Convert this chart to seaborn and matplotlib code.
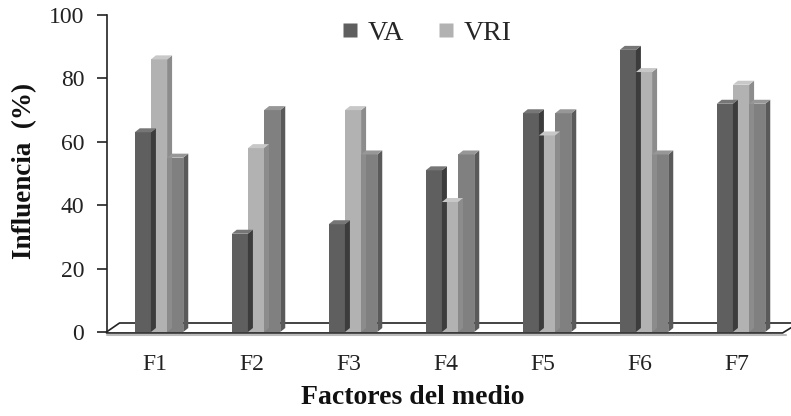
import numpy as np
import pandas as pd
import matplotlib
matplotlib.use("Agg")
import matplotlib.pyplot as plt
from matplotlib.patches import Polygon
from matplotlib.lines import Line2D
import seaborn as sns

factors = ["F1", "F2", "F3", "F4", "F5", "F6", "F7"]
va = [63, 31, 34, 51, 69, 89, 72]
vri = [86, 58, 70, 41, 62, 82, 78]
serie3 = [55, 70, 56, 56, 69, 56, 72]
series_names = ["VA", "VRI", "Serie 3"]
legend_names = ["VA", "VRI"]
yticks = [0, 20, 40, 60, 80, 100]

front_colors = ["#5f5f5f", "#b2b2b2", "#808080"]
side_colors = ["#3c3c3c", "#8c8c8c", "#5a5a5a"]
top_colors = ["#767676", "#c8c8c8", "#979797"]

df = pd.DataFrame({
    "Factor": factors * 3,
    "Serie": sum([[s] * len(factors) for s in series_names], []),
    "Valor": va + vri + serie3,
})

sns.set_theme(style="white")
plt.rcParams["font.family"] = ["Liberation Serif", "DejaVu Serif"]

fig = plt.figure(figsize=(7.91, 4.16), dpi=100)
ax = fig.add_axes([106.5 / 791, 84 / 416, 679 / 791, 317 / 416])

sns.barplot(data=df, x="Factor", y="Valor", hue="Serie", order=factors,
            hue_order=series_names, palette=front_colors, width=0.5,
            saturation=1, linewidth=0, ax=ax, legend=False)

ax.set_xlim(-0.5, 6.5)
ax.set_ylim(0, 100)

# pixel -> data conversions for the pseudo-3D faces
p0 = ax.transData.transform((0, 0))
p1 = ax.transData.transform((1, 1))
px_x = p1[0] - p0[0]
px_y = p1[1] - p0[1]
dx = 5 / px_x
dy = 4 / px_y
shift = 4 / px_x

bars = list(ax.patches)
n = len(factors)
for k, bar in enumerate(bars):
    s = k // n
    bar.set_x(bar.get_x() + shift)
    x0 = bar.get_x(); w = bar.get_width(); h = bar.get_height()
    z = 3 + 6 * (x0 + 1)
    bar.set_zorder(z)
    side = Polygon([(x0 + w, 0), (x0 + w, h), (x0 + w + dx, h + dy), (x0 + w + dx, dy)],
                   closed=True, facecolor=side_colors[s], edgecolor="none", zorder=z + 1)
    top = Polygon([(x0, h), (x0 + w, h), (x0 + w + dx, h + dy), (x0 + dx, h + dy)],
                  closed=True, facecolor=top_colors[s], edgecolor="none", zorder=z + 1)
    ax.add_patch(side)
    ax.add_patch(top)

# floor
fdx = 13 / px_x
fdy = 9 / px_y
ax.plot([-0.5, -0.5 + fdx, 6.5 + fdx], [0, fdy, fdy], color="#222222", lw=1.2,
        zorder=2, clip_on=False)
ax.plot([-0.5, 6.5 - 0.03, 6.5 + 0.06], [-0.3, -0.3, 1.4], color="#222222", lw=1.2,
        zorder=80, clip_on=False)
ax.plot([-0.5, 6.5], [-0.9, -0.9], color="#bbbbbb", lw=1.5, zorder=79, clip_on=False)

for sp in ["top", "right", "bottom"]:
    ax.spines[sp].set_visible(False)
ax.spines["left"].set_color("#222222")
ax.spines["left"].set_linewidth(1.2)

ax.set_yticks(yticks)
ax.set_yticklabels([str(t) for t in yticks], fontsize=17, color="#222222")
ax.tick_params(axis="y", which="both", left=True, length=7, width=1.2, color="#222222", pad=9)
ax.tick_params(axis="x", which="both", bottom=False, length=0, pad=16)
for lab in ax.get_xticklabels():
    lab.set_fontsize(17)
    lab.set_color("#222222")

ax.set_xlabel("Factores del medio", fontsize=20, fontweight="bold", color="#111111")
ax.xaxis.set_label_coords((413 - 106.5) / 679, -(397 - 332) / 317)
ax.xaxis.label.set_va("center")
ax.set_ylabel("Influencia  (%)", fontsize=19.5, fontweight="bold", color="#111111")
ax.yaxis.set_label_coords(-(106.5 - 25) / 679, (332 - 171) / 317)
ax.yaxis.label.set_va("center")

handles = [Line2D([0], [0], marker="s", linestyle="none", markersize=10,
                  markerfacecolor=front_colors[i], markeredgecolor="none")
           for i in range(len(legend_names))]
ax.legend(handles, legend_names, loc="center",
          bbox_to_anchor=((426.5 - 106.5) / 679, (332 - 33) / 317), ncol=2,
          frameon=False, fontsize=20, handlelength=0.6, handletextpad=0.35,
          columnspacing=1.2, borderaxespad=0.0, borderpad=0.0)

fig.savefig("out.png", dpi=100)
